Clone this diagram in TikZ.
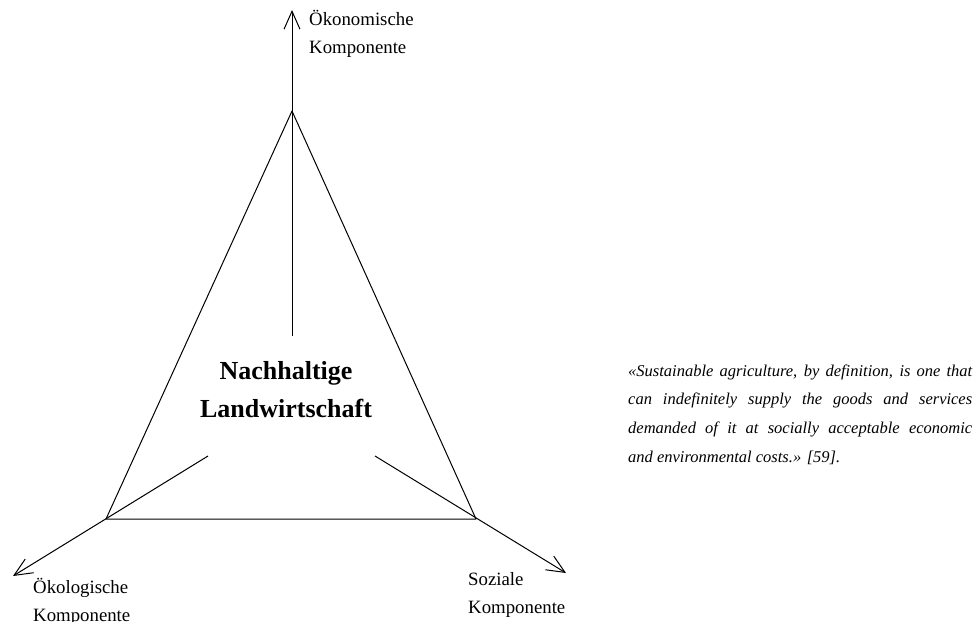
\documentclass[tikz,border=0pt]{standalone}
\usepackage{fontspec}
\setmainfont{Liberation Serif}
\usetikzlibrary{arrows.meta}
\begin{document}
\begin{tikzpicture}[x=1pt,y=-1pt,
  edge/.style={line width=1pt,line join=round},
  axis/.style={line width=1pt,-{Straight Barb[length=18pt,width=16pt,line width=1pt]}},
  lbl/.style={font=\fontsize{18.8}{28}\selectfont,align=left,anchor=base west,inner sep=0pt},
  title/.style={font=\fontsize{26}{38}\selectfont\bfseries,align=center,anchor=base,inner sep=0pt},
  quote/.style={font=\fontsize{16.5}{28.7}\selectfont\itshape,text width=344pt,align=justify,anchor=base west,inner sep=0pt}]
\useasboundingbox (0,0) rectangle (976,621);

% corners of the triangle
\coordinate (top) at (292,111);
\coordinate (bl) at (106,519);
\coordinate (br) at (476,519);

% start and end points of the three axes
\coordinate (ecoS) at (292,336);
\coordinate (ecoT) at (292,10);
\coordinate (oekS) at (208,456);
\coordinate (oekT) at (13,576);
\coordinate (sozS) at (375,456);
\coordinate (sozT) at (566,573);

\draw[edge] (top) -- (bl) -- (br) -- cycle;

\draw[axis] (ecoS) -- (ecoT);
\draw[axis] (oekS) -- (oekT);
\draw[axis] (sozS) -- (sozT);

% multi-line labels: the base anchor sits on the last line
\node[lbl] (eco) at (309,53) {Ökonomische\\Komponente};
\node[lbl] (oek) at (33,621) {Ökologische\\Komponente};
\node[lbl] (soz) at (468,613) {Soziale\\Komponente};

\node[title] (center) at (286,417) {Nachhaltige\\Landwirtschaft};

\node[quote] (cite) at (628,376) {«Sustainable agriculture, by definition, is one that\linebreak
can indefinitely supply the goods and services\linebreak
demanded of it at socially acceptable economic\linebreak
and environmental costs.» [59].};
\end{tikzpicture}
\end{document}
